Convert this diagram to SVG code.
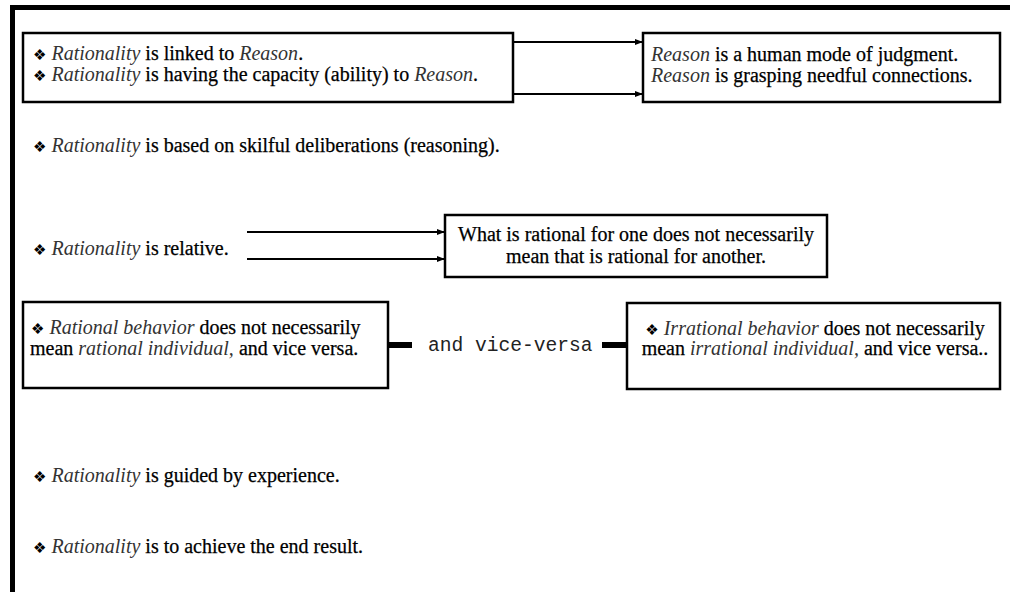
<svg xmlns="http://www.w3.org/2000/svg" width="1010" height="592" viewBox="0 0 1010 592">
<defs>
<style>
text{font-family:"Liberation Serif","Times New Roman",serif;font-size:20px;fill:#000;stroke:#000;stroke-width:0.25;}
.i{font-style:italic;stroke-width:0;fill:#333;}
.b{font-family:"DejaVu Sans",sans-serif;font-size:15px;stroke-width:0;fill:#000;}
.box{fill:#fff;stroke:#000;stroke-width:2.5;}
.ln{stroke:#000;stroke-width:2;fill:none;}
.thick{stroke:#000;stroke-width:6;fill:none;}
.mono{font-family:"Liberation Mono","Courier New",monospace;font-size:19.6px;stroke-width:0;fill:#222;}
</style>
<marker id="ah" markerWidth="8" markerHeight="8" refX="7" refY="4" orient="auto" markerUnits="userSpaceOnUse">
<path d="M0,1 L8,4 L0,7 Z" fill="#000"/>
</marker>
</defs>
<rect width="1010" height="592" fill="#fff"/>
<g id="frame">
<rect x="10" y="5" width="1000" height="5" fill="#000"/>
<rect x="10" y="5" width="5" height="587" fill="#000"/>
</g>
<g id="connectors">
<line class="ln" x1="513" y1="42" x2="642" y2="42" marker-end="url(#ah)"/>
<line class="ln" x1="513" y1="94" x2="642" y2="94" marker-end="url(#ah)"/>
<line class="ln" x1="247" y1="232" x2="444" y2="232" marker-end="url(#ah)"/>
<line class="ln" x1="247" y1="259" x2="444" y2="259" marker-end="url(#ah)"/>
<line class="thick" x1="389" y1="345" x2="412" y2="345"/>
<line class="thick" x1="602" y1="345" x2="627" y2="345"/>
</g>
<g id="n1">
<rect class="box" x="23" y="33" width="490" height="69"/>
<text x="33" y="60"><tspan class="b">❖</tspan> <tspan class="i">Rationality</tspan> is linked to <tspan class="i">Reason</tspan>.</text>
<text x="33" y="81"><tspan class="b">❖</tspan> <tspan class="i">Rationality</tspan> is having the capacity (ability) to <tspan class="i">Reason</tspan>.</text>
</g>
<g id="n2">
<rect class="box" x="643" y="33" width="357" height="69"/>
<text x="651" y="61"><tspan class="i">Reason</tspan> is a human mode of judgment.</text>
<text x="651" y="82"><tspan class="i">Reason</tspan> is grasping needful connections.</text>
</g>
<g id="n3">
<text x="33" y="152"><tspan class="b">❖</tspan> <tspan class="i">Rationality</tspan> is based on skilful deliberations (reasoning).</text>
</g>
<g id="n4">
<text x="33" y="255"><tspan class="b">❖</tspan> <tspan class="i">Rationality</tspan> is relative.</text>
</g>
<g id="n5">
<rect class="box" x="445" y="215" width="382" height="62"/>
<text x="636" y="241" text-anchor="middle">What is rational for one does not necessarily</text>
<text x="636" y="263" text-anchor="middle">mean that is rational for another.</text>
</g>
<g id="n6">
<rect class="box" x="23" y="302" width="365" height="86"/>
<text x="31" y="334"><tspan class="b">❖</tspan> <tspan class="i">Rational behavior</tspan> does not necessarily</text>
<text x="30" y="355">mean <tspan class="i">rational individual,</tspan> and vice versa.</text>
</g>
<g id="n7">
<text class="mono" x="428" y="351">and vice-versa</text>
</g>
<g id="n8">
<rect class="box" x="627" y="303" width="373" height="86"/>
<text x="815" y="335" text-anchor="middle"><tspan class="b">❖</tspan> <tspan class="i">Irrational behavior</tspan> does not necessarily</text>
<text x="815" y="355" text-anchor="middle">mean <tspan class="i">irrational individual,</tspan> and vice versa..</text>
</g>
<g id="n9">
<text x="33" y="482"><tspan class="b">❖</tspan> <tspan class="i">Rationality</tspan> is guided by experience.</text>
</g>
<g id="n10">
<text x="33" y="553"><tspan class="b">❖</tspan> <tspan class="i">Rationality</tspan> is to achieve the end result.</text>
</g>
</svg>
